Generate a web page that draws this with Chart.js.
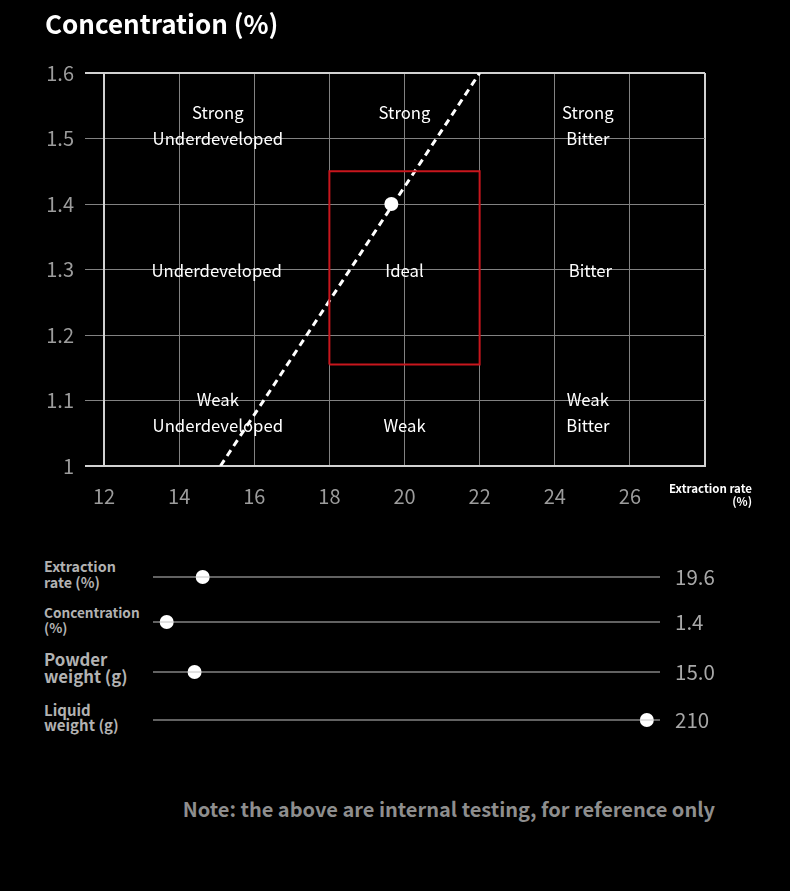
<!DOCTYPE html>
<html><head><meta charset="utf-8">
<script src="https://cdn.jsdelivr.net/npm/chart.js@4.4.1/dist/chart.umd.min.js"></script>
<style>
html,body{margin:0;padding:0;background:#000;width:790px;height:891px;overflow:hidden;font-family:'Noto Sans CJK SC','Noto Sans',sans-serif;}
#wrap{position:relative;width:790px;height:891px;}
.abs{position:absolute;white-space:nowrap;}
#title{left:45px;top:8px;font-size:26px;line-height:30px;font-weight:700;color:#fff;}
#xtitle{right:38px;top:482px;font-size:11.5px;line-height:12.5px;font-weight:700;color:#fff;text-align:right;}
#note{right:75px;top:797px;font-size:20px;line-height:24px;font-weight:700;color:#8e8e8e;}
.slabel{left:44px;font-weight:700;color:#b2b2b2;}
.sval{left:675px;font-size:20.5px;line-height:24px;color:#a8a8a8;}
#main{position:absolute;left:0;top:0;}
.sl{position:absolute;left:146px;}
</style></head>
<body><div id="wrap">
<canvas id="main" width="790" height="530"></canvas>
<div id="title" class="abs">Concentration (%)</div>
<div id="xtitle" class="abs">Extraction rate<br>(%)</div>
<div id="note" class="abs">Note: the above are internal testing, for reference only</div>
</div>
<script>
// ---- data ----
const xTickValues = [12, 14, 16, 18, 20, 22, 24, 26, 28];
const xTickLabels = ['12', '14', '16', '18', '20', '22', '24', '26', ''];
const yTickValues = [1, 1.1, 1.2, 1.3, 1.4, 1.5, 1.6];
const yTickLabels = ['1', '1.1', '1.2', '1.3', '1.4', '1.5', '1.6'];
const idealExtraction = [18, 22, 22, 18, 18];
const idealConcentration = [1.155, 1.155, 1.45, 1.45, 1.155];
const ratioExtraction = [15.1, 22];
const ratioConcentration = [1.0, 1.6];
const currentExtraction = [19.65];
const currentConcentration = [1.4];
const zoneTexts = [['Strong', 'Underdeveloped'], ['Strong'], ['Strong', 'Bitter'], ['Underdeveloped'], ['Ideal'], ['Bitter'], ['Weak', 'Underdeveloped'], ['Weak'], ['Weak', 'Bitter']];
const zoneExtraction = [15.03, 20, 24.88, 15, 20, 24.95, 15.03, 20, 24.88];
const zoneConcentration = [1.52, 1.539, 1.52, 1.298, 1.298, 1.298, 1.082, 1.062, 1.081];
const sliderLabels = [['Extraction', 'rate (%)'], ['Concentration', '(%)'], ['Powder', 'weight (g)'], ['Liquid', 'weight (g)']];
const sliderValues = ['19.6', '1.4', '15.0', '210'];
const sliderPositions = [9.8, 2.7, 8.2, 97.4];
const sliderRange = [0, 100];

// ---- layout (not data) ----
const FONT = "'Noto Sans CJK SC','Noto Sans',sans-serif";
const sliderRowY = [577, 622, 672, 720];
const sliderLabelStyle = [
  {size: 14.3, lh: 15.5, top: 558.3},
  {size: 13.6, lh: 15, top: 604.9},
  {size: 16.8, lh: 17, top: 650.7},
  {size: 15, lh: 15.3, top: 702}
];

const pts = (xs, ys) => xs.map((v, i) => ({x: v, y: ys[i]}));

const zonePlugin = {
  id: 'zones',
  beforeDatasetsDraw(chart) {
    const {ctx, scales: {x, y}} = chart;
    ctx.save();
    ctx.fillStyle = '#fff';
    ctx.font = '16.7px ' + FONT;
    ctx.textAlign = 'center';
    ctx.textBaseline = 'middle';
    const lh = 26;
    zoneTexts.forEach((lines, i) => {
      const cx = x.getPixelForValue(zoneExtraction[i]);
      const cy = y.getPixelForValue(zoneConcentration[i]);
      lines.forEach((t, j) => ctx.fillText(t, cx, cy + (j - (lines.length - 1) / 2) * lh));
    });
    ctx.restore();
  }
};

const edgeX = v => v === xTickValues[0] || v === xTickValues[xTickValues.length - 1];
const edgeY = v => v === yTickValues[0] || v === yTickValues[yTickValues.length - 1];
const LIGHT = '#d2d2d2', GRID = '#828282';

new Chart(document.getElementById('main'), {
  type: 'scatter',
  data: {
    datasets: [
      {data: pts(idealExtraction, idealConcentration), showLine: true, borderColor: '#c8161d', borderWidth: 2, pointRadius: 0, fill: false, tension: 0},
      {data: pts(ratioExtraction, ratioConcentration), showLine: true, borderColor: '#ffffff', borderWidth: 3, borderDash: [7, 5], pointRadius: 0, fill: false},
      {data: pts(currentExtraction, currentConcentration), pointRadius: 7, pointBackgroundColor: '#fff', pointBorderWidth: 0, backgroundColor: '#fff'}
    ]
  },
  options: {
    responsive: false, animation: false,
    layout: {padding: {top: 73, right: 85, left: 0, bottom: 0}},
    plugins: {legend: {display: false}, tooltip: {enabled: false}},
    scales: {
      x: {
        type: 'linear', min: 12, max: 28,
        afterBuildTicks: s => { s.ticks = xTickValues.map(v => ({value: v})); },
        afterFit: s => { s.height = 64; },
        ticks: {callback: (v, i) => xTickLabels[i], color: '#9c9c9c', font: {family: FONT, size: 20}, padding: 18, maxRotation: 0, autoSkip: false},
        grid: {
          drawTicks: false,
          color: c => (c.tick && edgeX(c.tick.value)) ? LIGHT : GRID,
          lineWidth: c => (c.tick && edgeX(c.tick.value)) ? 2 : 1
        },
        border: {display: true, color: LIGHT, width: 2}
      },
      y: {
        type: 'linear', min: 1, max: 1.6,
        afterBuildTicks: s => { s.ticks = yTickValues.map(v => ({value: v})); },
        afterFit: s => { s.width = 104; },
        ticks: {callback: (v, i) => yTickLabels[i], color: '#9c9c9c', font: {family: FONT, size: 20}, padding: 11, autoSkip: false},
        grid: {
          tickLength: 19,
          color: c => (c.tick && edgeY(c.tick.value)) ? LIGHT : GRID,
          tickColor: c => (c.tick && edgeY(c.tick.value)) ? LIGHT : GRID,
          lineWidth: c => (c.tick && edgeY(c.tick.value)) ? 2 : 1
        },
        border: {display: true, color: LIGHT, width: 2}
      }
    }
  },
  plugins: [zonePlugin]
});

// ---- sliders ----
const wrap = document.getElementById('wrap');
sliderLabels.forEach((lines, i) => {
  const st = sliderLabelStyle[i];
  const lab = document.createElement('div');
  lab.className = 'abs slabel';
  lab.style.top = st.top + 'px';
  lab.style.fontSize = st.size + 'px';
  lab.style.lineHeight = st.lh + 'px';
  lab.innerHTML = lines.join('<br>');
  wrap.appendChild(lab);

  const val = document.createElement('div');
  val.className = 'abs sval';
  val.style.top = (sliderRowY[i] - 13.4) + 'px';
  val.textContent = sliderValues[i];
  wrap.appendChild(val);

  const cv = document.createElement('canvas');
  cv.className = 'sl';
  cv.width = 521; cv.height = 20;
  cv.style.top = (sliderRowY[i] - 10) + 'px';
  wrap.appendChild(cv);
  new Chart(cv, {
    type: 'scatter',
    data: {datasets: [
      {data: [{x: sliderRange[0], y: 0}, {x: sliderRange[1], y: 0}], showLine: true, borderColor: '#c4c4c4', borderWidth: 1, pointRadius: 0},
      {data: [{x: sliderPositions[i], y: 0}], pointRadius: 7, pointBackgroundColor: '#fff', pointBorderWidth: 0, backgroundColor: '#fff', clip: false}
    ]},
    options: {
      responsive: false, animation: false,
      layout: {padding: {left: 7, right: 7, top: 0, bottom: 0}},
      plugins: {legend: {display: false}, tooltip: {enabled: false}},
      scales: {
        x: {type: 'linear', min: sliderRange[0], max: sliderRange[1], display: false},
        y: {type: 'linear', min: -1, max: 1, display: false}
      }
    }
  });
});
</script>
</body></html>
